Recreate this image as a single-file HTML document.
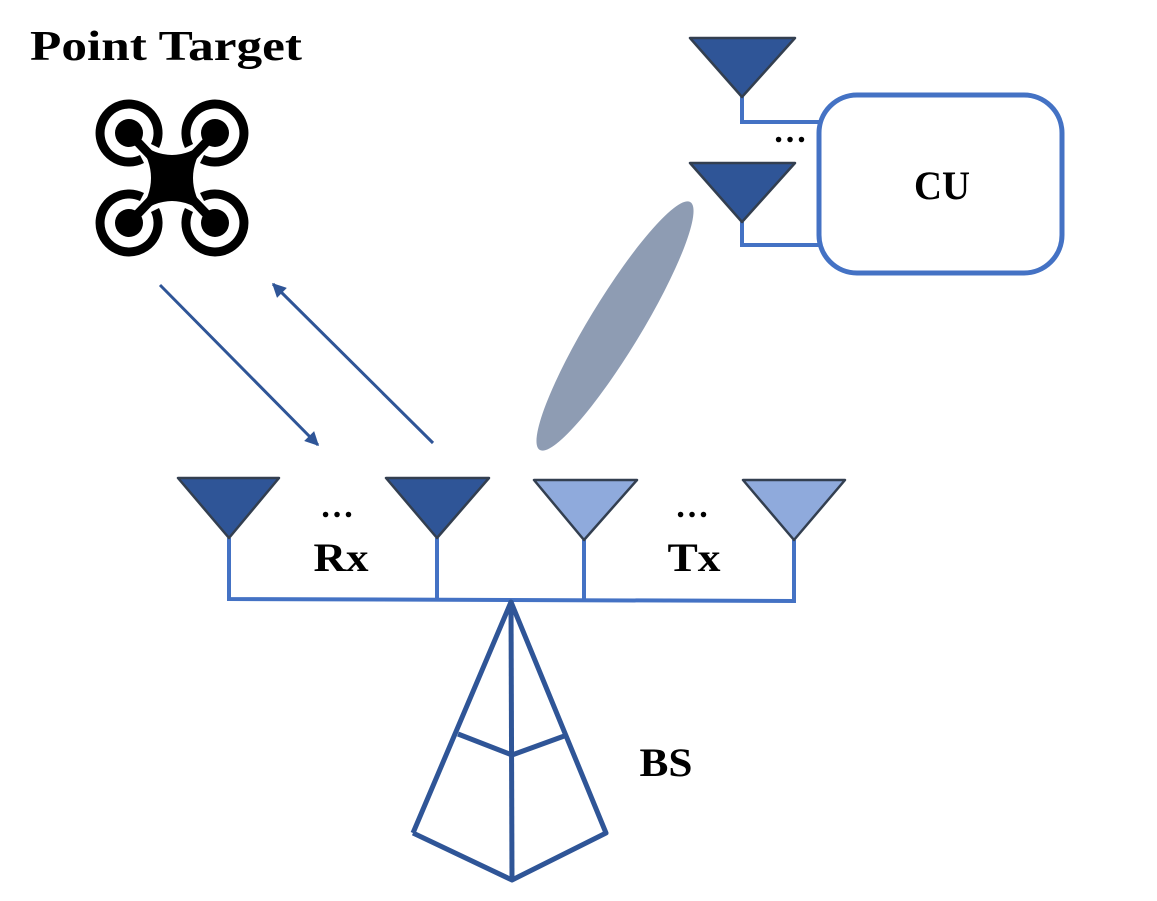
<!DOCTYPE html>
<html><head><style>body{margin:0;background:#fff}svg{display:block}</style></head><body>
<svg width="1157" height="901" viewBox="0 0 1157 901" xmlns="http://www.w3.org/2000/svg" font-family="'Liberation Serif',serif" font-weight="bold">
<text x="30" y="60" font-size="42" textLength="272" lengthAdjust="spacingAndGlyphs">Point Target</text>
<!-- drone -->
<g fill="#000" stroke="#000">
<path d="M138,142 Q172,168 206,142 Q180,178 206,214 Q172,188 138,214 Q164,178 138,142Z" stroke="none"/>
<g stroke-width="9" fill="none">
<line x1="129" y1="133" x2="215" y2="223"/><line x1="215" y1="133" x2="129" y2="223"/>
<path d="M155,146 A29,29 0 1 0 142,159"/>
<path d="M189,146 A29,29 0 1 1 202,159"/>
<path d="M155,210 A29,29 0 1 1 142,197"/>
<path d="M189,210 A29,29 0 1 0 202,197"/>
</g>
<circle cx="129" cy="133" r="14" stroke="none"/><circle cx="215" cy="133" r="14" stroke="none"/>
<circle cx="129" cy="223" r="14" stroke="none"/><circle cx="215" cy="223" r="14" stroke="none"/>
</g>
<defs><marker id="b" viewBox="0 0 10 10" markerWidth="16" markerHeight="14" refX="9" refY="5" orient="auto" markerUnits="userSpaceOnUse"><path d="M0,0 L10,5 L0,10Z" fill="#2F5597"/></marker></defs>
<line x1="160" y1="285" x2="318" y2="445" stroke="#2F5597" stroke-width="3" marker-end="url(#b)"/>
<line x1="433" y1="443" x2="273" y2="284" stroke="#2F5597" stroke-width="3" marker-end="url(#b)"/>
<ellipse cx="615" cy="326" rx="145" ry="26" fill="#8E9CB3" transform="rotate(-58.7 615 326)"/>
<g stroke="#4472C4" stroke-width="4" fill="none">
<polyline points="742,97 742,122 820,122"/>
<polyline points="742,222 742,245 820,245"/>
<rect x="819" y="95" width="243" height="178" rx="38" stroke-width="5" fill="#fff"/>
</g>
<g fill="#2F5597" stroke="#333F50" stroke-width="2.5" stroke-linejoin="round">
<polygon points="690,38 795,38 742,97"/>
<polygon points="690,163 795,163 742,222"/>
</g>
<text x="790" y="142" font-size="34" text-anchor="middle">…</text>
<text x="942" y="199" font-size="40" text-anchor="middle" textLength="56" lengthAdjust="spacingAndGlyphs">CU</text>
<g stroke="#4472C4" stroke-width="4" fill="none">
<polyline points="229,538 229,599 794,601 794,540"/>
<line x1="437" y1="538" x2="437" y2="600"/>
<line x1="584" y1="540" x2="584" y2="601"/>
</g>
<g stroke="#333F50" stroke-width="2.5" stroke-linejoin="round">
<polygon points="178,478 279,478 229,538" fill="#2F5597"/>
<polygon points="386,478 489,478 437,538" fill="#2F5597"/>
<polygon points="534,480 637,480 584,540" fill="#8FAADC"/>
<polygon points="743,480 845,480 794,540" fill="#8FAADC"/>
</g>
<text x="337" y="517" font-size="34" text-anchor="middle">…</text>
<text x="692" y="517" font-size="34" text-anchor="middle">…</text>
<text x="341" y="571" font-size="40" text-anchor="middle" textLength="55" lengthAdjust="spacingAndGlyphs">Rx</text>
<text x="694" y="571" font-size="40" text-anchor="middle" textLength="53" lengthAdjust="spacingAndGlyphs">Tx</text>
<g stroke="#2F5597" stroke-width="5" fill="none" stroke-linejoin="round">
<polyline points="413,833 511,602 606,833 512,880 413,833"/>
<line x1="511" y1="602" x2="512" y2="880"/>
<polyline points="458,734 512,755 567,735"/>
</g>
<text x="666" y="776" font-size="40" text-anchor="middle" textLength="53" lengthAdjust="spacingAndGlyphs">BS</text>
</svg>
</body></html>
